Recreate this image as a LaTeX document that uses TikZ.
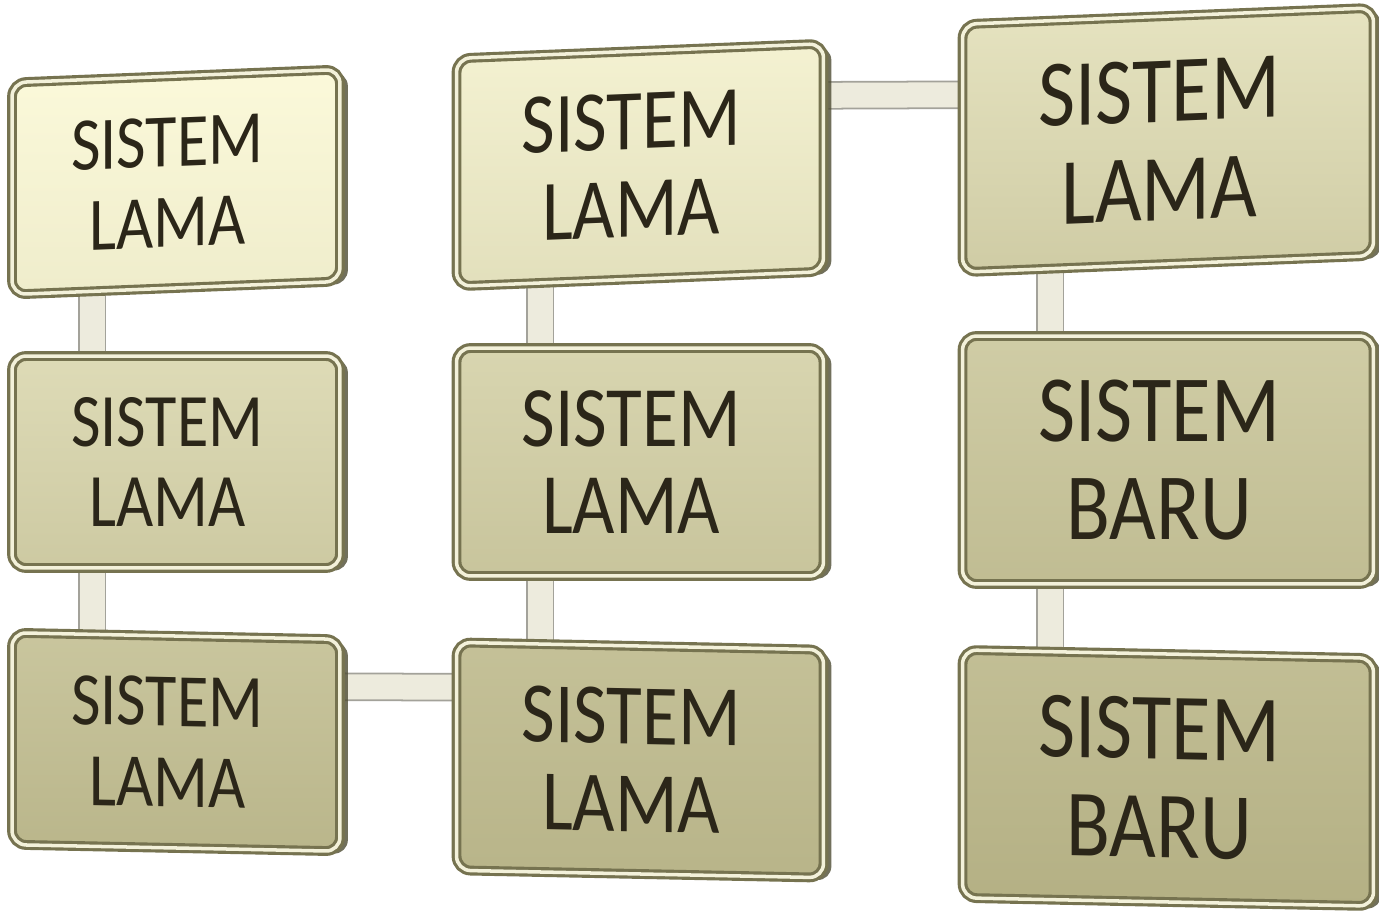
\documentclass[tikz,border=0pt]{standalone}
\usepackage{fontspec}
\setmainfont[FakeStretch=0.85]{Carlito}
\usepackage{tikz}
\usetikzlibrary{backgrounds,shadows}

\definecolor{cream}{HTML}{FBF9DA}
\definecolor{olive}{HTML}{B4B084}
\definecolor{edge}{HTML}{767350}
\definecolor{bevel}{HTML}{F3F1DA}
\definecolor{rim}{HTML}{4E4C33}
\definecolor{ink}{HTML}{2B2619}
\definecolor{barfill}{HTML}{EDEBDD}
\definecolor{barline}{HTML}{A3A29A}

\newcommand{\sistem}[1]{SISTEM\kern3.5mm\\#1\kern3.5mm}

\tikzset{
  box/.style={rectangle, rounded corners=8pt, draw=edge, line width=1.8pt,
    double=bevel, double distance=2pt, text=ink, align=center,
    inner sep=0pt, transform shape,
    drop shadow={fill=rim, shadow xshift=4.5pt, shadow yshift=-1.5pt, opacity=0.8}},
  colA/.style={box, minimum width=6.56cm, minimum height=4.24cm,
    font=\fontsize{43}{46}\selectfont},
  colB/.style={box, minimum width=7.34cm, minimum height=4.56cm,
    font=\fontsize{49}{50}\selectfont},
  colC/.style={box, minimum width=8.22cm, minimum height=4.96cm,
    font=\fontsize{54}{56}\selectfont},
  bar/.style={draw=barline, line width=1pt, double=barfill, double distance=0.5cm}
}

\begin{document}
\begin{tikzpicture}[x=0.02cm,y=-0.02cm]
    \useasboundingbox (0,0) rectangle (1379,913);

    \node[colA,yslant=0.04,top color=cream,bottom color=cream!83!olive] (0) at (176,182) {\sistem{LAMA}};
    \node[colA,top color=cream!59!olive,bottom color=cream!35!olive] (1) at (176,462) {\sistem{LAMA}};
    \node[colA,yslant=-0.02,top color=cream!30!olive,bottom color=cream!8!olive] (2) at (176,742) {\sistem{LAMA}};

    \node[colB,yslant=0.04,top color=cream!90!olive,bottom color=cream!65!olive] (3) at (640,165) {\sistem{LAMA}};
    \node[colB,top color=cream!51!olive,bottom color=cream!28!olive] (4) at (640,462) {\sistem{LAMA}};
    \node[colB,yslant=-0.02,top color=cream!23!olive,bottom color=cream!6!olive] (5) at (640,760) {\sistem{LAMA}};

    \node[colC,yslant=0.04,top color=cream!70!olive,bottom color=cream!38!olive] (6) at (1168,140) {\sistem{LAMA}};
    \node[colC,top color=cream!39!olive,bottom color=cream!17!olive] (7) at (1168,460) {\sistem{BARU}};
    \node[colC,yslant=-0.02,top color=cream!20!olive,bottom color=olive] (8) at (1168,778) {\sistem{BARU}};

    \begin{scope}[on background layer]
    \draw[bar] ([xshift=-1.68cm]0.center) -- ([xshift=-1.68cm]1.center);
    \draw[bar] ([xshift=-1.68cm]1.center) -- ([xshift=-1.68cm]2.center);
    \draw[bar] ([yshift=1.12cm]2.center) -- ([yshift=1.44cm]5.center);
    \draw[bar] ([xshift=-2cm]5.center) -- ([xshift=-2cm]4.center);
    \draw[bar] ([xshift=-2cm]4.center) -- ([xshift=-2cm]3.center);
    \draw[bar] ([yshift=1.38cm]3.center) -- ([yshift=0.92cm]6.center);
    \draw[bar] ([xshift=-2.36cm]6.center) -- ([xshift=-2.36cm]7.center);
    \draw[bar] ([xshift=-2.36cm]7.center) -- ([xshift=-2.36cm]8.center);
    \end{scope}
  \end{tikzpicture}
\end{document}
